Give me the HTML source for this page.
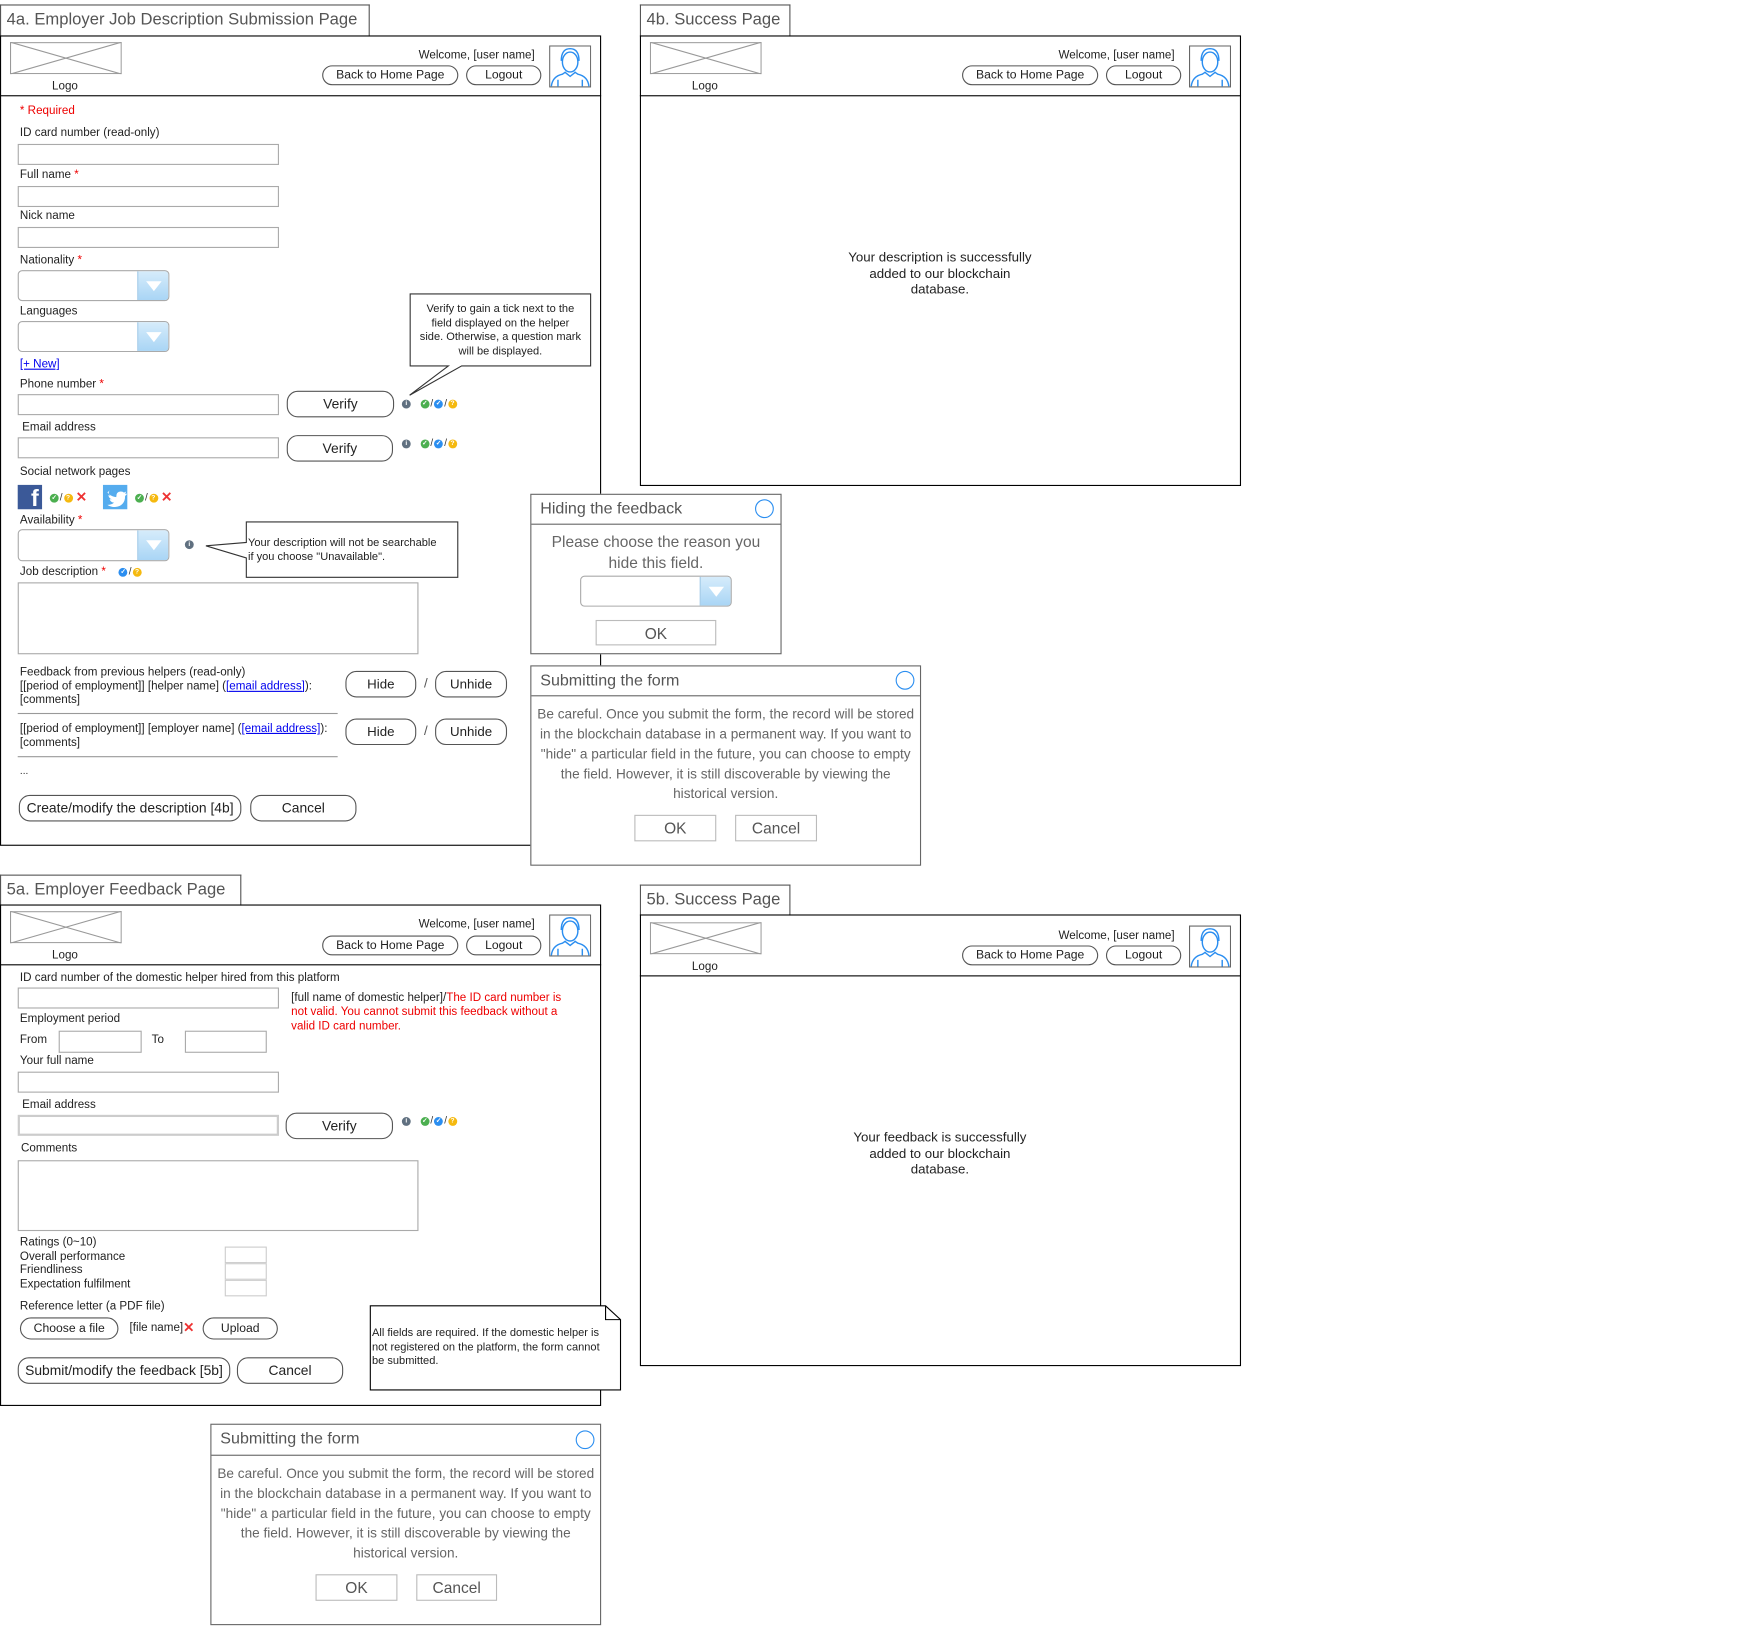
<!DOCTYPE html>
<html><head><meta charset="utf-8">
<style>
html,body{margin:0;padding:0;background:#fff;}
body{width:1737px;height:1626px;overflow:hidden;position:relative;}
#w{position:absolute;left:0;top:0;width:1569px;height:1469px;transform:scale(1.10707);transform-origin:0 0;font-family:"Liberation Sans",Arial,sans-serif;color:#222;}
.a{position:absolute;}
.t{position:absolute;font-size:10.5px;line-height:13px;white-space:nowrap;}
.fr{position:absolute;border:1px solid #000;box-sizing:border-box;}
.tt{position:absolute;border:1px solid #555;border-bottom:none;box-sizing:border-box;font-size:15px;color:#555;padding:4px 0 0 5px;white-space:nowrap;}
.in{position:absolute;border:1px solid #aaa;box-sizing:border-box;background:#fff;}
.btn{position:absolute;border:1px solid #555;border-radius:10px;box-sizing:border-box;text-align:center;font-size:11px;background:#fff;}
.sq{position:absolute;border:1px solid #bbb;box-sizing:border-box;text-align:center;color:#555;font-size:14px;background:#fff;}
.dd{position:absolute;border:1px solid #aaa;border-radius:4px;box-sizing:border-box;background:#fff;overflow:hidden;}
.dd i{position:absolute;right:0;top:0;bottom:0;width:27px;background:linear-gradient(#d6ecfb,#a9d5f5);border-left:1px solid #9cc8e8;}
.dd i:after{content:"";position:absolute;left:7px;top:9px;border-left:7px solid transparent;border-right:7px solid transparent;border-top:9px solid #fff;}
.red{color:#e00;}
.lnk{color:#00e;text-decoration:underline;}
.ic{display:inline-block;width:8px;height:8px;border-radius:50%;vertical-align:middle;font-size:6px;line-height:8px;color:#fff;text-align:center;font-weight:bold;}
.g{background:#4caf50}.b{background:#2b8ef0}.y{background:#f5b90f}.gr{background:#607080}
.sl{font-size:9px;color:#333;vertical-align:middle;margin:0 1px;}
.x{color:#e33;font-weight:bold;font-size:12px;vertical-align:middle;}
.dlg{position:absolute;border:1px solid #666;box-sizing:border-box;background:#fff;}
.dlg .h{position:absolute;left:0;right:0;top:0;border-bottom:1px solid #666;color:#555;font-size:14.5px;padding-left:8px;box-sizing:border-box;}
.dlg .c{position:absolute;width:17px;height:17px;border:1.3px solid #2b8ef0;border-radius:50%;box-sizing:border-box;}
.dlg .bd{position:absolute;left:0;right:0;text-align:center;color:#666;font-size:12.3px;line-height:18px;white-space:nowrap;}
</style></head><body><div id="w">

<!-- ===== 4a ===== -->
<div class="tt" style="left:0;top:4px;width:334px;height:29px;">4a. Employer Job Description Submission Page</div>
<div class="fr" style="left:0;top:32px;width:543px;height:732px;"></div>
<div class="a" style="left:0;top:86px;width:543px;border-top:1px solid #000;"></div>

<svg class="a" style="left:9px;top:38px" width="101" height="29"><rect x=".5" y=".5" width="100" height="28" fill="#fff" stroke="#999"/><line x1="0" y1="0" x2="101" y2="29" stroke="#999"/><line x1="101" y1="0" x2="0" y2="29" stroke="#999"/></svg>
<div class="t" style="left:47px;top:72px;">Logo</div>
<div class="t" style="left:340px;top:44px;width:143px;text-align:right;">Welcome, [user name]</div>
<div class="btn" style="left:291px;top:59px;width:123px;height:18px;line-height:16px;">Back to Home Page</div>
<div class="btn" style="left:421px;top:59px;width:68px;height:18px;line-height:16px;">Logout</div>
<svg class="a" style="left:496px;top:41px" width="38" height="38"><rect x=".5" y=".5" width="37" height="37" fill="#fff" stroke="#666"/><g fill="none" stroke="#2b8ef0" stroke-width="1.3"><ellipse cx="19" cy="15" rx="7" ry="9"/><path d="M11 14 q0-11 8-11 q8 0 8 11"/><path d="M2 37 q1-9 10-11 l3-2 M36 37 q-1-9-10-11 l-3-2"/><path d="M14 24 l5 4 l5-4"/><line x1="8" y1="31" x2="8" y2="37"/><line x1="30" y1="31" x2="30" y2="37"/></g></svg>

<div class="t red" style="left:18px;top:94px;">* Required</div>
<div class="t" style="left:18px;top:114px;">ID card number (read-only)</div>
<div class="in" style="left:16px;top:130px;width:236px;height:19px;"></div>
<div class="t" style="left:18px;top:152px;">Full name <span class="red">*</span></div>
<div class="in" style="left:16px;top:168px;width:236px;height:19px;"></div>
<div class="t" style="left:18px;top:189px;">Nick name</div>
<div class="in" style="left:16px;top:205px;width:236px;height:19px;"></div>
<div class="t" style="left:18px;top:229px;">Nationality <span class="red">*</span></div>
<div class="dd" style="left:16px;top:244px;width:137px;height:28px;"><i></i></div>
<div class="t" style="left:18px;top:275px;">Languages</div>
<div class="dd" style="left:16px;top:290px;width:137px;height:28px;"><i></i></div>
<div class="t lnk" style="left:18px;top:323px;">[+ New]</div>
<div class="t" style="left:18px;top:341px;">Phone number <span class="red">*</span></div>
<div class="in" style="left:16px;top:356px;width:236px;height:19px;"></div>
<div class="btn" style="left:259px;top:353px;width:97px;height:24px;line-height:23px;font-size:12.5px;">Verify</div>
<div class="t" style="left:363px;top:358px;"><span class="ic gr">i</span>&nbsp;&nbsp;&nbsp;<span class="ic g">✓</span><span class="sl">/</span><span class="ic b">✓</span><span class="sl">/</span><span class="ic y">?</span></div>
<div class="t" style="left:20px;top:380px;">Email address</div>
<div class="in" style="left:16px;top:395px;width:236px;height:19px;"></div>
<div class="btn" style="left:259px;top:393px;width:96px;height:24px;line-height:23px;font-size:12.5px;">Verify</div>
<div class="t" style="left:363px;top:394px;"><span class="ic gr">i</span>&nbsp;&nbsp;&nbsp;<span class="ic g">✓</span><span class="sl">/</span><span class="ic b">✓</span><span class="sl">/</span><span class="ic y">?</span></div>

<svg class="a" style="left:360px;top:260px" width="180" height="100"><path d="M10.5 5.5 H173.5 V70.5 H57 L10 97 L45 70.5 H10.5 Z" fill="#fff" stroke="#333"/></svg>
<div class="t" style="left:371px;top:274px;width:162px;text-align:center;font-size:10px;line-height:12.7px;">Verify to gain a tick next to the<br>field displayed on the helper<br>side. Otherwise, a question mark<br>will be displayed.</div>

<div class="t" style="left:18px;top:420px;">Social network pages</div>
<div class="a" style="left:16px;top:438px;width:22px;height:22px;background:#3b5998;color:#fff;font-weight:bold;font-size:21px;line-height:26px;text-align:right;padding-right:3px;box-sizing:border-box;overflow:hidden;">f</div>
<div class="t" style="left:45px;top:443px;"><span class="ic g">✓</span><span class="sl">/</span><span class="ic y">?</span>&nbsp;<span class="x">✕</span></div>
<div class="a" style="left:93px;top:438px;width:22px;height:22px;background:#55acee;"><svg width="22" height="22"><path d="M4 7 q4 4 8 4 q0-5 4-5 q2 0 3 1 l2-1 l-1 2 l2 0 l-2 2 q0 9-9 10 q-4 0-7-2 q4 0 6-2 q-3 0-4-3 l2 0 q-3-1-3-4 l2 1 q-3-2-1-5z" fill="#fff"/></svg></div>
<div class="t" style="left:122px;top:443px;"><span class="ic g">✓</span><span class="sl">/</span><span class="ic y">?</span>&nbsp;<span class="x">✕</span></div>

<div class="t" style="left:18px;top:464px;">Availability <span class="red">*</span></div>
<div class="dd" style="left:16px;top:478px;width:137px;height:29px;"><i></i></div>
<div class="t" style="left:167px;top:486px;"><span class="ic gr">i</span></div>
<svg class="a" style="left:180px;top:466px" width="240" height="60"><path d="M42.5 5.5 H233.5 V55.5 H42.5 V38 L6 27 L42.5 24 Z" fill="#fff" stroke="#333"/></svg>
<div class="t" style="left:224px;top:484px;font-size:10px;line-height:13px;">Your description will not be searchable<br>if you choose "Unavailable".</div>

<div class="t" style="left:18px;top:510px;">Job description <span class="red">*</span> &nbsp;&nbsp;&nbsp;<span class="ic b">✓</span><span class="sl">/</span><span class="ic y">?</span></div>
<div class="in" style="left:16px;top:526px;width:362px;height:65px;"></div>

<div class="t" style="left:18px;top:601px;line-height:12.6px;">Feedback from previous helpers (read-only)<br>[[period of employment]] [helper name] (<span class="lnk">[email address]</span>):<br>[comments]</div>
<div class="btn" style="left:312px;top:606px;width:64px;height:24px;line-height:23px;font-size:12px;">Hide</div>
<div class="t" style="left:383px;top:611px;font-size:12px;color:#555;">/</div>
<div class="btn" style="left:393px;top:606px;width:65px;height:24px;line-height:23px;font-size:12px;">Unhide</div>
<div class="a" style="left:16px;top:644px;width:289px;border-top:1px solid #999;"></div>
<div class="t" style="left:18px;top:652px;line-height:12.6px;">[[period of employment]] [employer name] (<span class="lnk">[email address]</span>):<br>[comments]</div>
<div class="btn" style="left:312px;top:649px;width:64px;height:24px;line-height:23px;font-size:12px;">Hide</div>
<div class="t" style="left:383px;top:654px;font-size:12px;color:#555;">/</div>
<div class="btn" style="left:393px;top:649px;width:65px;height:24px;line-height:23px;font-size:12px;">Unhide</div>
<div class="a" style="left:16px;top:683px;width:289px;border-top:1px solid #999;"></div>
<div class="t" style="left:18px;top:690px;font-size:9px;">...</div>
<div class="btn" style="left:17px;top:718px;width:201px;height:24px;line-height:23px;font-size:12.5px;">Create/modify the description [4b]</div>
<div class="btn" style="left:226px;top:718px;width:96px;height:24px;line-height:23px;font-size:12.5px;">Cancel</div>

<!-- ===== 4b ===== -->
<div class="tt" style="left:578px;top:4px;width:136px;height:29px;">4b. Success Page</div>
<div class="fr" style="left:578px;top:32px;width:543px;height:407px;"></div>
<div class="a" style="left:578px;top:86px;width:543px;border-top:1px solid #000;"></div>
<svg class="a" style="left:587px;top:38px" width="101" height="29"><rect x=".5" y=".5" width="100" height="28" fill="#fff" stroke="#999"/><line x1="0" y1="0" x2="101" y2="29" stroke="#999"/><line x1="101" y1="0" x2="0" y2="29" stroke="#999"/></svg>
<div class="t" style="left:625px;top:72px;">Logo</div>
<div class="t" style="left:918px;top:44px;width:143px;text-align:right;">Welcome, [user name]</div>
<div class="btn" style="left:869px;top:59px;width:123px;height:18px;line-height:16px;">Back to Home Page</div>
<div class="btn" style="left:999px;top:59px;width:68px;height:18px;line-height:16px;">Logout</div>
<svg class="a" style="left:1074px;top:41px" width="38" height="38"><rect x=".5" y=".5" width="37" height="37" fill="#fff" stroke="#666"/><g fill="none" stroke="#2b8ef0" stroke-width="1.3"><ellipse cx="19" cy="15" rx="7" ry="9"/><path d="M11 14 q0-11 8-11 q8 0 8 11"/><path d="M2 37 q1-9 10-11 l3-2 M36 37 q-1-9-10-11 l-3-2"/><path d="M14 24 l5 4 l5-4"/><line x1="8" y1="31" x2="8" y2="37"/><line x1="30" y1="31" x2="30" y2="37"/></g></svg>
<div class="t" style="left:749px;top:225px;width:200px;text-align:center;font-size:12px;line-height:14.5px;">Your description is successfully<br>added to our blockchain<br>database.</div>

<!-- Hiding dialog -->
<div class="dlg" style="left:479px;top:446px;width:227px;height:145px;">
 <div class="h" style="height:27px;line-height:26px;">Hiding the feedback</div>
 <div class="c" style="left:202px;top:4px;"></div>
 <div class="bd" style="top:33px;font-size:14px;line-height:19px;">Please choose the reason you<br>hide this field.</div>
 <div class="dd" style="left:44px;top:73px;width:137px;height:28px;"><i></i></div>
 <div class="sq" style="left:58px;top:113px;width:109px;height:23px;line-height:22px;">OK</div>
</div>

<!-- Submitting dialog 1 -->
<div class="dlg" style="left:479px;top:601px;width:353px;height:181px;">
 <div class="h" style="height:27px;line-height:26px;">Submitting the form</div>
 <div class="c" style="left:329px;top:4px;"></div>
 <div class="bd" style="top:34px;">Be careful. Once you submit the form, the record will be stored<br>in the blockchain database in a permanent way. If you want to<br>"hide" a particular field in the future, you can choose to empty<br>the field. However, it is still discoverable by viewing the<br>historical version.</div>
 <div class="sq" style="left:93px;top:134px;width:74px;height:24px;line-height:23px;">OK</div>
 <div class="sq" style="left:184px;top:134px;width:74px;height:24px;line-height:23px;">Cancel</div>
</div>

<!-- ===== 5a ===== -->
<div class="tt" style="left:0;top:790px;width:218px;height:28px;">5a. Employer Feedback Page</div>
<div class="fr" style="left:0;top:817px;width:543px;height:453px;"></div>
<div class="a" style="left:0;top:871px;width:543px;border-top:1px solid #000;"></div>
<svg class="a" style="left:9px;top:823px" width="101" height="29"><rect x=".5" y=".5" width="100" height="28" fill="#fff" stroke="#999"/><line x1="0" y1="0" x2="101" y2="29" stroke="#999"/><line x1="101" y1="0" x2="0" y2="29" stroke="#999"/></svg>
<div class="t" style="left:47px;top:857px;">Logo</div>
<div class="t" style="left:340px;top:829px;width:143px;text-align:right;">Welcome, [user name]</div>
<div class="btn" style="left:291px;top:845px;width:123px;height:18px;line-height:16px;">Back to Home Page</div>
<div class="btn" style="left:421px;top:845px;width:68px;height:18px;line-height:16px;">Logout</div>
<svg class="a" style="left:496px;top:826px" width="38" height="38"><rect x=".5" y=".5" width="37" height="37" fill="#fff" stroke="#666"/><g fill="none" stroke="#2b8ef0" stroke-width="1.3"><ellipse cx="19" cy="15" rx="7" ry="9"/><path d="M11 14 q0-11 8-11 q8 0 8 11"/><path d="M2 37 q1-9 10-11 l3-2 M36 37 q-1-9-10-11 l-3-2"/><path d="M14 24 l5 4 l5-4"/><line x1="8" y1="31" x2="8" y2="37"/><line x1="30" y1="31" x2="30" y2="37"/></g></svg>

<div class="t" style="left:18px;top:877px;">ID card number of the domestic helper hired from this platform</div>
<div class="in" style="left:16px;top:892px;width:236px;height:19px;"></div>
<div class="t" style="left:263px;top:895px;line-height:12.8px;">[full name of domestic helper]/<span class="red">The ID card number is<br>not valid. You cannot submit this feedback without a<br>valid ID card number.</span></div>
<div class="t" style="left:18px;top:914px;">Employment period</div>
<div class="t" style="left:18px;top:933px;">From</div>
<div class="in" style="left:53px;top:931px;width:75px;height:20px;"></div>
<div class="t" style="left:137px;top:933px;">To</div>
<div class="in" style="left:167px;top:931px;width:74px;height:20px;"></div>
<div class="t" style="left:18px;top:952px;">Your full name</div>
<div class="in" style="left:16px;top:968px;width:236px;height:19px;"></div>
<div class="t" style="left:20px;top:992px;">Email address</div>
<div class="in" style="left:16px;top:1007px;width:236px;height:19px;border-width:2px;border-color:#ccc;"></div>
<div class="btn" style="left:258px;top:1005px;width:97px;height:24px;line-height:23px;font-size:12.5px;">Verify</div>
<div class="t" style="left:363px;top:1006px;"><span class="ic gr">i</span>&nbsp;&nbsp;&nbsp;<span class="ic g">✓</span><span class="sl">/</span><span class="ic b">✓</span><span class="sl">/</span><span class="ic y">?</span></div>
<div class="t" style="left:19px;top:1031px;">Comments</div>
<div class="in" style="left:16px;top:1048px;width:362px;height:64px;"></div>
<div class="t" style="left:18px;top:1116px;line-height:12.7px;">Ratings (0~10)<br>Overall performance<br>Friendliness<br>Expectation fulfilment</div>
<div class="in" style="left:203px;top:1126px;width:38px;height:15px;border-width:1.5px;border-color:#ccc;"></div>
<div class="in" style="left:203px;top:1141px;width:38px;height:15px;border-width:1.5px;border-color:#ccc;"></div>
<div class="in" style="left:203px;top:1156px;width:38px;height:15px;border-width:1.5px;border-color:#ccc;"></div>
<div class="t" style="left:18px;top:1174px;">Reference letter (a PDF file)</div>
<div class="btn" style="left:18px;top:1190px;width:89px;height:20px;line-height:18px;">Choose a file</div>
<div class="t" style="left:117px;top:1193px;">[file name]<span class="x">✕</span></div>
<div class="btn" style="left:183px;top:1190px;width:68px;height:20px;line-height:18px;">Upload</div>
<div class="btn" style="left:16px;top:1226px;width:192px;height:24px;line-height:23px;font-size:12.5px;">Submit/modify the feedback [5b]</div>
<div class="btn" style="left:214px;top:1226px;width:96px;height:24px;line-height:23px;font-size:12.5px;">Cancel</div>
<svg class="a" style="left:333px;top:1178px" width="230" height="80"><path d="M1.5 1.5 H214 L227.5 14 V77.5 H1.5 Z" fill="#fff" stroke="#000"/><path d="M214 1.5 V14 H227.5" fill="none" stroke="#000"/></svg>
<div class="t" style="left:336px;top:1199px;font-size:10px;line-height:12.7px;">All fields are required. If the domestic helper is<br>not registered on the platform, the form cannot<br>be submitted.</div>

<!-- ===== 5b ===== -->
<div class="tt" style="left:578px;top:799px;width:136px;height:28px;">5b. Success Page</div>
<div class="fr" style="left:578px;top:826px;width:543px;height:408px;"></div>
<div class="a" style="left:578px;top:881px;width:543px;border-top:1px solid #000;"></div>
<svg class="a" style="left:587px;top:833px" width="101" height="29"><rect x=".5" y=".5" width="100" height="28" fill="#fff" stroke="#999"/><line x1="0" y1="0" x2="101" y2="29" stroke="#999"/><line x1="101" y1="0" x2="0" y2="29" stroke="#999"/></svg>
<div class="t" style="left:625px;top:867px;">Logo</div>
<div class="t" style="left:918px;top:839px;width:143px;text-align:right;">Welcome, [user name]</div>
<div class="btn" style="left:869px;top:854px;width:123px;height:18px;line-height:16px;">Back to Home Page</div>
<div class="btn" style="left:999px;top:854px;width:68px;height:18px;line-height:16px;">Logout</div>
<svg class="a" style="left:1074px;top:836px" width="38" height="38"><rect x=".5" y=".5" width="37" height="37" fill="#fff" stroke="#666"/><g fill="none" stroke="#2b8ef0" stroke-width="1.3"><ellipse cx="19" cy="15" rx="7" ry="9"/><path d="M11 14 q0-11 8-11 q8 0 8 11"/><path d="M2 37 q1-9 10-11 l3-2 M36 37 q-1-9-10-11 l-3-2"/><path d="M14 24 l5 4 l5-4"/><line x1="8" y1="31" x2="8" y2="37"/><line x1="30" y1="31" x2="30" y2="37"/></g></svg>
<div class="t" style="left:749px;top:1020px;width:200px;text-align:center;font-size:12px;line-height:14.5px;">Your feedback is successfully<br>added to our blockchain<br>database.</div>

<!-- Submitting dialog 2 -->
<div class="dlg" style="left:190px;top:1286px;width:353px;height:182px;">
 <div class="h" style="height:28px;line-height:27px;">Submitting the form</div>
 <div class="c" style="left:329px;top:5px;"></div>
 <div class="bd" style="top:35px;">Be careful. Once you submit the form, the record will be stored<br>in the blockchain database in a permanent way. If you want to<br>"hide" a particular field in the future, you can choose to empty<br>the field. However, it is still discoverable by viewing the<br>historical version.</div>
 <div class="sq" style="left:94px;top:135px;width:74px;height:24px;line-height:23px;">OK</div>
 <div class="sq" style="left:185px;top:135px;width:73px;height:24px;line-height:23px;">Cancel</div>
</div>

</div></body></html>
